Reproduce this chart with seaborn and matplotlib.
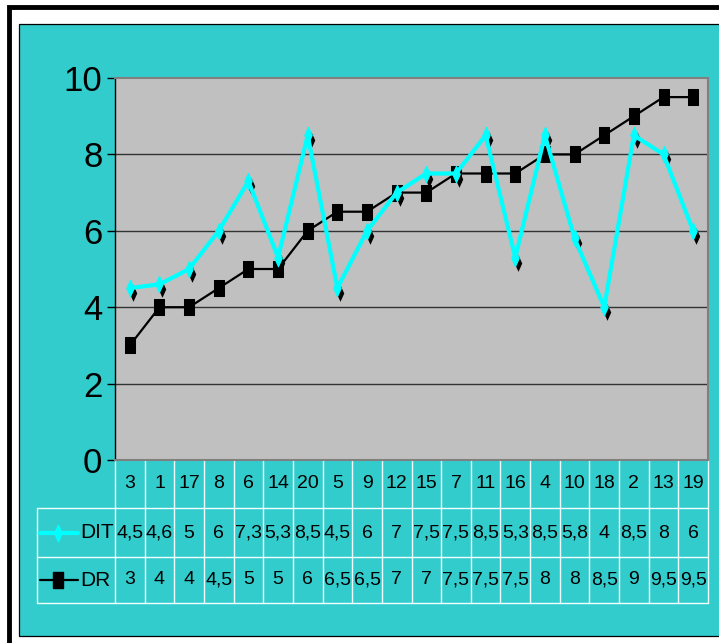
import matplotlib
matplotlib.use("Agg")
import matplotlib.pyplot as plt
import matplotlib.transforms as mtransforms
from matplotlib.patches import Rectangle
from matplotlib.lines import Line2D
import seaborn as sns
import pandas as pd

# data
categories = ["3", "1", "17", "8", "6", "14", "20", "5", "9", "12",
              "15", "7", "11", "16", "4", "10", "18", "2", "13", "19"]
dt_values = [4.5, 4.6, 5, 6, 7.3, 5.3, 8.5, 4.5, 6, 7,
             7.5, 7.5, 8.5, 5.3, 8.5, 5.8, 4, 8.5, 8, 6]
dr_values = [3, 4, 4, 4.5, 5, 5, 6, 6.5, 6.5, 7,
             7, 7.5, 7.5, 7.5, 8, 8, 8.5, 9, 9.5, 9.5]
series_names = ["DIT", "DR"]
y_ticks = [0, 2, 4, 6, 8, 10]

W, H = 719, 643
TEAL = "#33CCCC"
CYAN = "#00FFFF"
PLOT_BG = "#C0C0C0"
SQUARE = [(-0.33, -0.5), (0.33, -0.5), (0.33, 0.5), (-0.33, 0.5), (-0.33, -0.5)]
DIAMOND = [(0, 1), (0.45, 0), (0, -1), (-0.45, 0), (0, 1)]


def fx(px):
    return px / W


def fy(py):
    return 1 - py / H


def fmt(v):
    return f"{v:g}".replace(".", ",")


sns.set_style("white")
plt.rcParams["font.family"] = ["Liberation Sans", "DejaVu Sans"]
plt.rcParams["text.color"] = "black"
plt.rcParams["ytick.labelcolor"] = "black"

fig = plt.figure(figsize=(W / 100, H / 100), dpi=100)
fig.patch.set_facecolor("white")

# outer frames (black border, then teal chart area)
fig.add_artist(Rectangle((fx(9), fy(700)), fx(760) - fx(9), fy(6.5) - fy(700),
                         transform=fig.transFigure, facecolor="white",
                         edgecolor="black", lw=3.5, zorder=-10))
fig.add_artist(Rectangle((fx(18.5), fy(636)), fx(760) - fx(18.5), fy(23.5) - fy(636),
                         transform=fig.transFigure, facecolor=TEAL,
                         edgecolor="black", lw=0.9, zorder=-9))

ax = fig.add_axes([fx(115), fy(460), fx(708) - fx(115), fy(78) - fy(460)])
ax.set_facecolor(PLOT_BG)

df = pd.DataFrame({"pos": range(len(categories)), "cat": categories,
                   "DT": dt_values, "DR": dr_values})

for v in y_ticks[1:-1]:
    ax.axhline(v, color="#333333", lw=1, zorder=1)

sns.lineplot(data=df, x="pos", y="DR", color="black", lw=1.6, marker=SQUARE,
             markersize=11, markerfacecolor="black", markeredgecolor="black",
             estimator=None, sort=False, legend=False, ax=ax, zorder=3)

shadow = mtransforms.offset_copy(ax.transData, fig=fig, x=3, y=-5, units="dots")
sns.scatterplot(data=df, x="pos", y="DT", color="black", marker=DIAMOND, s=144,
                linewidth=0, transform=shadow, legend=False, ax=ax, zorder=4)
sns.lineplot(data=df, x="pos", y="DT", color=CYAN, lw=3, marker=DIAMOND,
             markersize=12, markerfacecolor=CYAN, markeredgecolor=CYAN,
             estimator=None, sort=False, legend=False, ax=ax, zorder=5)

ax.set_xlim(-0.5, len(categories) - 0.5)
ax.set_ylim(0, 10)
ax.set_yticks(y_ticks)
ax.set_xticks([])
ax.set_xlabel("")
ax.set_ylabel("")
ax.tick_params(axis="y", left=True, length=6, width=1, pad=3, labelsize=25,
               direction="out", color="black", labelcolor="black")
for side in ["top", "right", "bottom"]:
    ax.spines[side].set_color("#808080")
    ax.spines[side].set_linewidth(1.5)
ax.spines["left"].set_color("black")
ax.spines["left"].set_linewidth(1)

# data table below the plot
trans = mtransforms.blended_transform_factory(ax.transData, fig.transFigure)
grid_kw = dict(color="#F0FFFF", lw=1)
for i in range(len(categories) + 1):
    ax.plot([i - 0.5, i - 0.5], [fy(460), fy(603)], transform=trans,
            clip_on=False, **grid_kw)
for y in [508, 557, 603]:
    fig.add_artist(Line2D([fx(37), fx(708)], [fy(y), fy(y)],
                          transform=fig.transFigure, **grid_kw))
fig.add_artist(Line2D([fx(37), fx(37)], [fy(508), fy(603)],
                      transform=fig.transFigure, **grid_kw))

row_y = [fy(484), fy(533), fy(580)]
for i, cat in enumerate(categories):
    ax.text(i, row_y[0], cat, transform=trans, ha="center", va="center",
            fontsize=14, color="black", clip_on=False)
    ax.text(i, row_y[1], fmt(dt_values[i]), transform=trans, ha="center",
            va="center", fontsize=14, color="black", clip_on=False)
    ax.text(i, row_y[2], fmt(dr_values[i]), transform=trans, ha="center",
            va="center", fontsize=14, color="black", clip_on=False)

# legend keys in the table
fig.add_artist(Line2D([fx(40), fx(78)], [row_y[1]] * 2, transform=fig.transFigure,
                      color=CYAN, lw=3))
fig.add_artist(Line2D([fx(58)], [row_y[1]], transform=fig.transFigure, color=CYAN,
                      marker=DIAMOND, markersize=12, mec=CYAN, mfc=CYAN))
fig.add_artist(Line2D([fx(40), fx(78)], [row_y[2]] * 2, transform=fig.transFigure,
                      color="black", lw=1.6))
fig.add_artist(Line2D([fx(58)], [row_y[2]], transform=fig.transFigure, color="black",
                      marker=SQUARE, markersize=11, mec="black", mfc="black"))
fig.text(fx(80), row_y[1], series_names[0], ha="left", va="center", fontsize=15,
         color="black")
fig.text(fx(80), row_y[2], series_names[1], ha="left", va="center", fontsize=15,
         color="black")

fig.savefig("out.png", dpi=100, facecolor="white")
